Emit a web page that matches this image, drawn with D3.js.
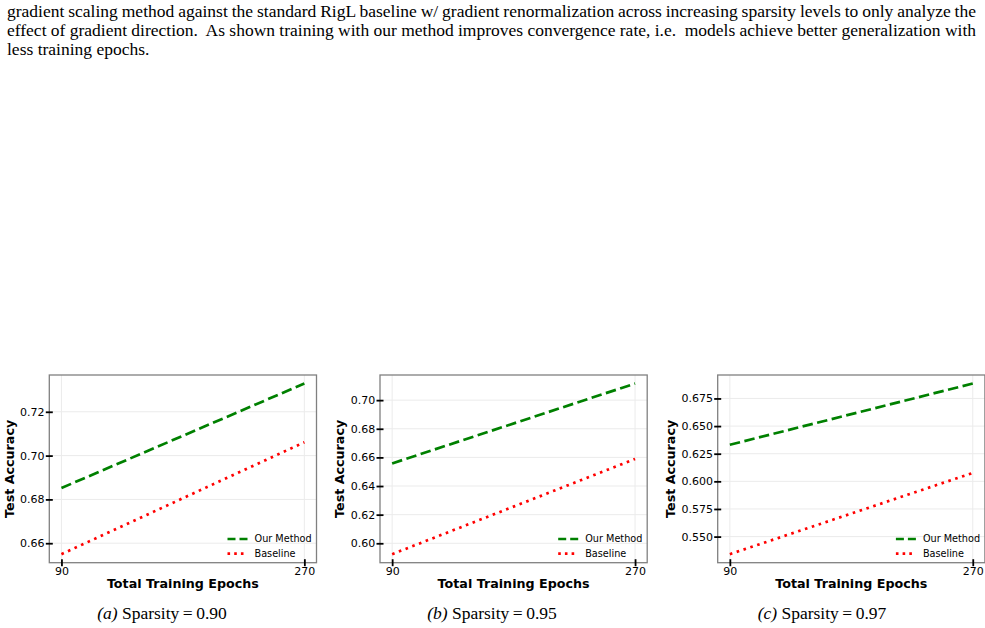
<!DOCTYPE html>
<html>
<head>
<meta charset="utf-8">
<script src="https://cdn.jsdelivr.net/npm/d3@7"></script>
<style>
  body { margin: 0; background: #fff; }
  svg { display: block; }
</style>
</head>
<body>
<div id="fig"></div>
<script>
// values
var epochs = [90, 270];
var panelTags = ["a", "b", "c"];
var sparsities = ["0.90", "0.95", "0.97"];
var ourMethod = [[0.6852, 0.7329], [0.6558, 0.7116], [0.6331, 0.6885]];
var baseline = [[0.6550, 0.7061], [0.5924, 0.6589], [0.5341, 0.6076]];
var yTicks = [
    [0.66, 0.68, 0.70, 0.72],
    [0.60, 0.62, 0.64, 0.66, 0.68, 0.70],
    [0.550, 0.575, 0.600, 0.625, 0.650, 0.675]
];
var yFormats = [".2f", ".2f", ".3f"];
var seriesNames = ["Our Method", "Baseline"];
var bodyLines = [
    "gradient scaling method against the standard RigL baseline w/ gradient renormalization across increasing sparsity levels to only analyze the",
    "effect of gradient direction.  As shown training with our method improves convergence rate, i.e.  models achieve better generalization with",
    "less training epochs."
];

(function () {
    var W = 985, H = 628;
    var svg = d3.select("#fig").append("svg").attr("width", W).attr("height", H);

    // paragraph text above the figure (justified lines)
    var serif = "'Liberation Serif', 'Times New Roman', serif";
    bodyLines.forEach(function (line, i) {
        var t = svg.append("text")
            .attr("x", 7).attr("y", 17 + i * 19)
            .style("font-family", serif).style("font-size", "17.5px")
            .style("white-space", "pre")
            .text(line);
        if (i < bodyLines.length - 1) {
            var natural = t.node().getComputedTextLength();
            var spaces = line.split(" ").length - 1;
            t.style("word-spacing", ((976 - 7 - natural) / spaces) + "px");
        }
    });

    var panelLeft = [49.3, 380, 717.7];
    var pw = 267.2, ph = 187.7, panelTop = 375;
    var sans = "'DejaVu Sans', sans-serif";
    var lineStyles = [
        { c: "#008000", dash: "10.5,4.5" },
        { c: "#ff0000", dash: "2.6,4.6" }
    ];

    for (var p = 0; p < 3; p++) {
        var g = svg.append("g").attr("transform", "translate(" + panelLeft[p] + "," + panelTop + ")");
        var all = ourMethod[p].concat(baseline[p]);
        var lo = d3.min(all), hi = d3.max(all), pad = (hi - lo) * 0.05;
        var xpad = (epochs[1] - epochs[0]) * 0.05;

        var x = d3.scaleLinear().domain([epochs[0] - xpad, epochs[1] + xpad]).range([0, pw]);
        var y = d3.scaleLinear().domain([lo - pad, hi + pad]).range([ph, 0]);

        // grid
        g.selectAll(".gy").data(yTicks[p]).enter().append("line")
            .attr("x1", 0).attr("x2", pw)
            .attr("y1", function (d) { return y(d); }).attr("y2", function (d) { return y(d); })
            .style("stroke", "#ebebeb").style("stroke-width", 1);
        g.selectAll(".gx").data(epochs).enter().append("line")
            .attr("y1", 0).attr("y2", ph)
            .attr("x1", function (d) { return x(d); }).attr("x2", function (d) { return x(d); })
            .style("stroke", "#ebebeb").style("stroke-width", 1);

        // lines
        var line = d3.line()
            .x(function (d, i) { return x(epochs[i]); })
            .y(function (d) { return y(d); });
        [ourMethod[p], baseline[p]].forEach(function (vals, i) {
            g.append("path").datum(vals).attr("d", line)
                .style("fill", "none").style("stroke", lineStyles[i].c).style("stroke-width", 2.7)
                .style("stroke-dasharray", lineStyles[i].dash);
        });

        // frame
        g.append("rect").attr("width", pw).attr("height", ph)
            .style("fill", "none").style("stroke", "#808080").style("stroke-width", 1.3);

        // y axis: ticks straddle the spine
        var yAxis = d3.axisLeft(y).tickValues(yTicks[p]).tickFormat(d3.format(yFormats[p]))
            .tickSize(3.5).tickPadding(1.2);
        var ya = g.append("g").call(yAxis);
        ya.select(".domain").remove();
        ya.selectAll(".tick line").attr("x2", 3.5).attr("x1", -3.5)
            .style("stroke", "#000").style("stroke-width", 1.8);
        ya.selectAll(".tick text").style("font-family", sans).style("font-size", "11px").style("fill", "#000");

        var xAxis = d3.axisBottom(x).tickValues(epochs).tickSize(3.5).tickPadding(1.3);
        var xa = g.append("g").attr("transform", "translate(0," + ph + ")").call(xAxis);
        xa.select(".domain").remove();
        xa.selectAll(".tick line").attr("y1", -3.5).attr("y2", 3.5)
            .style("stroke", "#000").style("stroke-width", 1.8);
        xa.selectAll(".tick text").style("font-family", sans).style("font-size", "11px").style("fill", "#000");

        // axis labels
        g.append("text").attr("x", pw / 2).attr("y", ph + 25)
            .attr("text-anchor", "middle")
            .style("font-family", sans).style("font-size", "12.7px").style("font-weight", "bold")
            .text("Total Training Epochs");
        var tickLeft = d3.min(ya.selectAll(".tick text").nodes(), function (n) {
            return n.getBBox().x;
        }) - 3.5;
        g.append("text")
            .attr("transform", "translate(" + (tickLeft - 3) + "," + (ph / 2) + ") rotate(-90)")
            .attr("text-anchor", "middle")
            .style("font-family", sans).style("font-size", "12.7px").style("font-weight", "bold")
            .text("Test Accuracy");

        // legend
        var lg = g.append("g").attr("transform", "translate(" + (pw - 89) + "," + (ph - 23.7) + ")");
        seriesNames.forEach(function (name, i) {
            lg.append("line").attr("x1", 0).attr("x2", 20).attr("y1", i * 14.7).attr("y2", i * 14.7)
                .style("stroke", lineStyles[i].c).style("stroke-width", 2.7)
                .style("stroke-dasharray", i === 0 ? "8,4" : "2.6,4.1");
            lg.append("text").attr("x", 27).attr("y", i * 14.7 + 3.4)
                .style("font-family", sans).style("font-size", "9.7px").style("fill", "#000")
                .text(name);
        });

        // caption
        var cap = svg.append("text").attr("x", 162 + p * 330).attr("y", 619)
            .attr("text-anchor", "middle")
            .style("font-family", serif).style("font-size", "17.5px");
        cap.append("tspan").style("font-style", "italic").text("(" + panelTags[p] + ")");
        cap.append("tspan").text(" Sparsity\u2009=\u2009" + sparsities[p]);
    }
})();
</script>
</body>
</html>
